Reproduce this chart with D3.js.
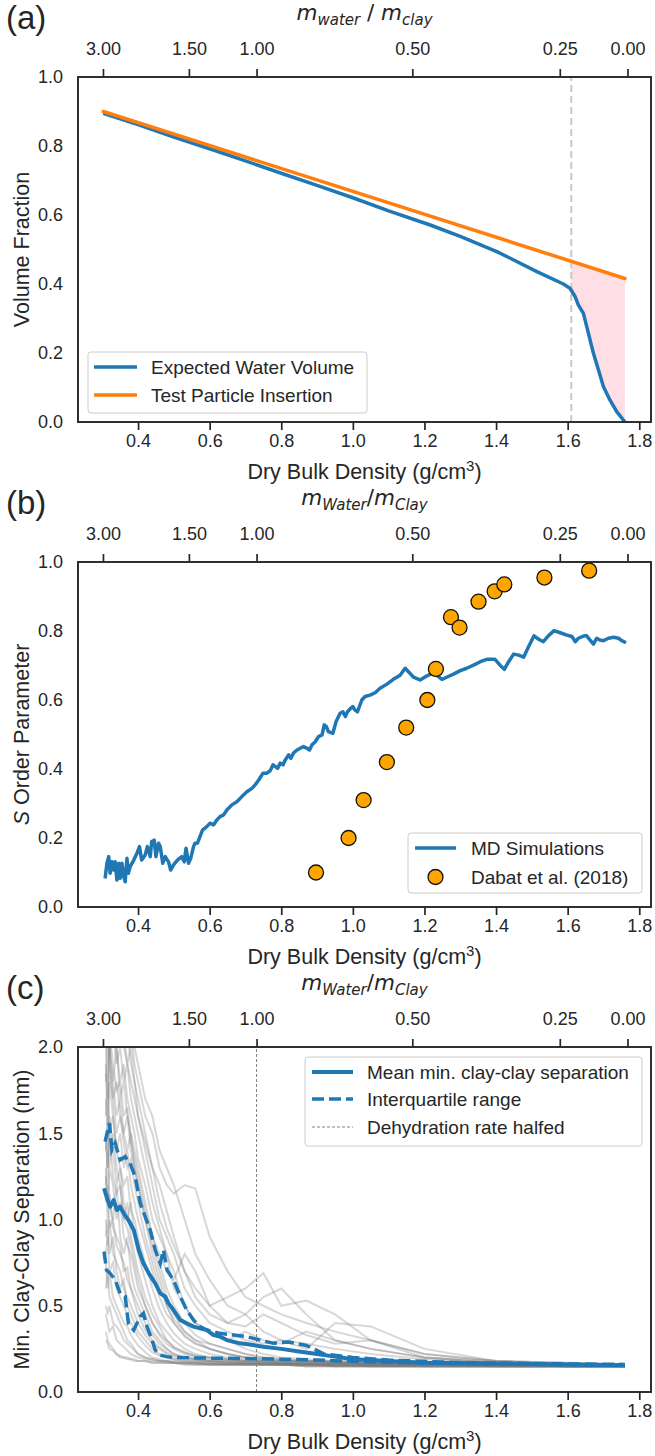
<!DOCTYPE html>
<html><head><meta charset="utf-8">
<script src="https://cdn.jsdelivr.net/npm/d3@7"></script>
<style>
body{margin:0;background:#fff}
svg text{font-family:"Liberation Sans",Arial,Helvetica,sans-serif;fill:#262626}
</style>
</head><body><svg id="chart" width="655" height="1456"></svg>
<script>
// ---------- shared axis data ----------
const densityTicks = [0.4,0.6,0.8,1.0,1.2,1.4,1.6,1.8];
const ratioTickLabels = ["3.00","1.50","1.00","0.50","0.25","0.00"];
const ratioTickDensity = [0.302,0.542,0.731,1.166,1.578,1.767];
const densityExtent = [0.305,1.760];

// ---------- panel (a) ----------
const blueD = [0.303,0.4,0.5,0.6,0.7,0.8,0.9,1.0,1.1,1.216,1.3,1.402,1.514,1.588,1.607,1.621,1.630,1.644,1.658,1.672,1.686,1.700,1.718,1.737,1.760];
const blueV = [0.895,0.862,0.826,0.792,0.757,0.721,0.686,0.650,0.612,0.571,0.538,0.494,0.436,0.400,0.387,0.363,0.339,0.315,0.257,0.199,0.151,0.102,0.064,0.030,0.0];
const orangeD = [0.303,1.760];
const orangeV = [0.900,0.416];
const cutoffDensity = 1.61;
const aTicks = [0.0,0.2,0.4,0.6,0.8,1.0];

// ---------- panel (b) ----------
const mdD = [0.308,0.313,0.318,0.322,0.327,0.332,0.336,0.341,0.346,0.350,
0.355,0.360,0.364,0.369,0.373,0.378,0.388,0.397,0.404,0.410,
0.420,0.426,0.434,0.438,0.445,0.450,0.457,0.462,0.469,0.476,
0.485,0.491,0.499,0.510,0.522,0.529,0.534,0.541,0.547,0.555,
0.559,0.566,0.573,0.580,0.592,0.601,0.611,0.620,0.629,0.639,
0.648,0.662,0.676,0.690,0.704,0.718,0.727,0.737,0.749,0.760,
0.769,0.777,0.784,0.790,0.797,0.805,0.811,0.821,0.827,0.834,
0.844,0.853,0.862,0.872,0.879,0.886,0.895,0.904,0.914,0.920,
0.926,0.932,0.944,0.953,0.964,0.972,0.979,0.985,0.994,1.000,
1.006,1.013,1.025,1.034,1.048,1.062,1.076,1.095,1.113,1.132,
1.146,1.160,1.169,1.188,1.207,1.225,1.249,1.262,1.281,1.300,
1.318,1.337,1.356,1.374,1.397,1.411,1.423,1.435,1.449,1.463,
1.477,1.491,1.506,1.519,1.532,1.546,1.562,1.579,1.598,1.612,
1.621,1.630,1.646,1.653,1.661,1.672,1.681,1.690,1.700,1.714,
1.728,1.742,1.751,1.763];
const mdS = [0.083,0.127,0.146,0.098,0.131,0.107,0.131,0.078,0.127,0.083,
0.127,0.088,0.073,0.141,0.098,0.117,0.136,0.156,0.175,0.136,
0.151,0.175,0.146,0.189,0.194,0.146,0.185,0.175,0.127,0.146,
0.131,0.107,0.122,0.136,0.146,0.131,0.170,0.127,0.141,0.175,
0.185,0.185,0.204,0.223,0.233,0.243,0.238,0.252,0.262,0.267,
0.281,0.296,0.305,0.320,0.334,0.344,0.354,0.368,0.388,0.388,
0.395,0.412,0.407,0.402,0.417,0.412,0.426,0.441,0.431,0.446,
0.455,0.460,0.465,0.460,0.455,0.470,0.479,0.494,0.499,0.528,
0.523,0.508,0.503,0.537,0.561,0.566,0.552,0.566,0.576,0.581,
0.571,0.566,0.600,0.610,0.614,0.621,0.634,0.646,0.660,0.672,
0.692,0.677,0.666,0.658,0.670,0.679,0.660,0.666,0.675,0.685,
0.692,0.701,0.711,0.718,0.718,0.701,0.689,0.711,0.733,0.730,
0.724,0.755,0.786,0.776,0.769,0.786,0.801,0.795,0.788,0.784,
0.769,0.779,0.786,0.786,0.776,0.762,0.779,0.774,0.772,0.779,
0.782,0.779,0.772,0.766];
const dabatD = [0.897,0.988,1.030,1.095,1.149,1.208,1.232,1.274,1.298,1.351,1.396,1.423,1.535,1.660];
const dabatS = [0.10,0.20,0.31,0.42,0.52,0.60,0.69,0.84,0.81,0.885,0.915,0.935,0.955,0.975];
const bTicks = [0.0,0.2,0.4,0.6,0.8,1.0];

// ---------- panel (c) ----------
const meanD = [0.305,0.312,0.322,0.332,0.341,0.350,0.360,0.373,0.388,0.402,0.415,0.430,0.448,0.462,0.476,0.485,0.499,0.518,0.536,0.555,0.573,0.592,0.611,0.629,0.648,0.685,0.722,0.75,0.8,0.85,0.9,0.95,1.0,1.1,1.2,1.4,1.6,1.76];
const meanV = [1.181,1.132,1.074,1.113,1.055,1.074,1.036,0.997,0.939,0.823,0.746,0.688,0.630,0.572,0.553,0.514,0.475,0.417,0.398,0.379,0.369,0.359,0.330,0.321,0.301,0.282,0.272,0.262,0.25,0.235,0.22,0.205,0.19,0.18,0.17,0.165,0.16,0.155];
const q3D = [0.308,0.320,0.327,0.336,0.350,0.364,0.378,0.392,0.406,0.420,0.434,0.448,0.462,0.471,0.481,0.499,0.518,0.536,0.555,0.573,0.592,0.629,0.667,0.704,0.741,0.778,0.82,0.87,0.92,1.0,1.1,1.3,1.5,1.76];
const q3V = [1.451,1.558,1.403,1.442,1.345,1.364,1.326,1.248,1.094,1.016,0.939,0.823,0.746,0.823,0.707,0.649,0.553,0.475,0.417,0.379,0.359,0.340,0.330,0.321,0.301,0.282,0.29,0.27,0.22,0.2,0.185,0.17,0.165,0.16];
const q1D = [0.305,0.312,0.322,0.336,0.350,0.364,0.373,0.388,0.406,0.415,0.425,0.439,0.448,0.46,0.48,0.5,0.55,0.6,0.7,0.8,0.9,1.0,1.2,1.4,1.6,1.76];
const q1V = [0.814,0.707,0.688,0.649,0.572,0.553,0.398,0.359,0.437,0.456,0.379,0.301,0.243,0.215,0.205,0.2,0.198,0.196,0.194,0.19,0.185,0.178,0.168,0.162,0.158,0.155];
const dehydrationDensity = 0.731;
const runGrid = [0.31,0.315,0.32,0.33,0.34,0.35,0.36,0.37,0.38,0.39,0.40,0.42,0.44,0.46,0.48,0.50,0.53,0.56,0.60,0.65,0.70,0.75,0.80,0.87,0.95,1.05,1.2,1.4,1.6,1.76];
const run01 = [2.4,2.6,2.3,2.5,2.2,2.4,2.3,2.1,2.2,2.0,1.9,1.7,1.6,1.4,1.3,1.2,1.0,0.8,0.65,0.5,0.45,0.55,0.6,0.45,0.3,0.25,0.2,0.18,0.17,0.16];
const run02 = [2.2,2.0,2.3,2.1,1.9,2.0,1.8,1.9,1.7,1.6,1.5,1.3,1.1,0.95,0.8,0.7,0.5,0.4,0.35,0.3,0.25,0.22,0.2,0.19,0.18,0.17,0.17,0.16,0.16,0.15];
const run03 = [1.8,2.1,1.9,1.7,1.8,1.6,1.5,1.6,1.4,1.3,1.2,1.0,0.85,0.7,0.55,0.45,0.35,0.3,0.25,0.22,0.2,0.19,0.18,0.18,0.17,0.17,0.16,0.16,0.15,0.15];
const run04 = [1.5,1.3,1.6,1.4,1.2,1.3,1.1,1.0,1.1,0.9,0.8,0.65,0.5,0.4,0.35,0.3,0.25,0.22,0.2,0.19,0.18,0.18,0.17,0.17,0.17,0.16,0.16,0.16,0.15,0.15];
const run05 = [1.2,1.4,1.1,1.0,1.2,0.9,0.8,0.9,0.7,0.6,0.55,0.45,0.35,0.3,0.25,0.22,0.2,0.19,0.18,0.18,0.17,0.17,0.17,0.16,0.16,0.16,0.16,0.15,0.15,0.15];
const run06 = [0.9,1.0,0.8,0.9,0.7,0.6,0.65,0.5,0.45,0.4,0.35,0.3,0.25,0.22,0.2,0.19,0.18,0.18,0.17,0.17,0.17,0.16,0.16,0.16,0.16,0.16,0.15,0.15,0.15,0.15];
const run07 = [0.6,0.7,0.55,0.5,0.45,0.4,0.35,0.3,0.28,0.25,0.22,0.2,0.19,0.18,0.18,0.17,0.17,0.17,0.16,0.16,0.16,0.16,0.16,0.16,0.15,0.15,0.15,0.15,0.15,0.15];
const run08 = [0.35,0.3,0.28,0.25,0.22,0.2,0.2,0.19,0.19,0.18,0.18,0.18,0.17,0.17,0.17,0.17,0.16,0.16,0.16,0.16,0.16,0.16,0.16,0.15,0.15,0.15,0.15,0.15,0.15,0.15];
const run09 = [2.6,2.3,2.5,2.2,2.4,2.1,2.3,2.0,2.1,1.9,1.8,1.6,1.5,1.3,1.2,1.15,1.2,1.18,0.9,0.7,0.55,0.5,0.45,0.4,0.35,0.3,0.22,0.18,0.16,0.16];
const run10 = [2.0,2.3,1.9,2.2,2.0,1.8,1.9,1.7,1.6,1.5,1.35,1.2,1.0,0.9,0.8,0.6,0.5,0.4,0.35,0.3,0.35,0.3,0.28,0.35,0.3,0.25,0.2,0.17,0.16,0.16];
const run11 = [1.7,1.5,1.8,1.6,1.4,1.5,1.3,1.4,1.2,1.1,1.0,0.85,0.7,0.55,0.45,0.4,0.32,0.28,0.25,0.22,0.2,0.19,0.18,0.18,0.17,0.17,0.16,0.16,0.16,0.15];
const run12 = [1.3,1.1,1.3,1.2,1.0,1.1,0.9,0.85,0.8,0.7,0.6,0.5,0.4,0.33,0.28,0.25,0.22,0.2,0.19,0.18,0.18,0.17,0.17,0.17,0.16,0.16,0.16,0.16,0.15,0.15];
const run13 = [1.0,0.85,1.0,0.8,0.75,0.7,0.6,0.55,0.5,0.45,0.4,0.33,0.28,0.25,0.22,0.2,0.19,0.18,0.18,0.17,0.17,0.17,0.16,0.16,0.16,0.16,0.16,0.15,0.15,0.15];
const run14 = [0.75,0.6,0.7,0.55,0.5,0.45,0.4,0.38,0.33,0.3,0.27,0.23,0.2,0.19,0.18,0.18,0.17,0.17,0.17,0.16,0.16,0.16,0.16,0.16,0.16,0.15,0.15,0.15,0.15,0.15];
const run15 = [2.3,2.5,2.4,2.2,2.3,2.2,2.0,2.1,1.9,1.8,1.7,1.5,1.3,1.2,1.05,0.9,0.7,0.6,0.5,0.55,0.6,0.69,0.5,0.53,0.45,0.3,0.22,0.18,0.17,0.16];
const run16 = [1.9,1.7,2.0,1.8,1.6,1.7,1.5,1.4,1.5,1.3,1.2,1.0,0.8,0.65,0.5,0.42,0.35,0.3,0.28,0.25,0.22,0.2,0.19,0.18,0.18,0.17,0.17,0.16,0.16,0.15];
const run17 = [1.4,1.6,1.3,1.5,1.3,1.2,1.0,1.1,0.9,0.8,0.7,0.55,0.45,0.38,0.3,0.26,0.23,0.21,0.2,0.19,0.18,0.18,0.17,0.17,0.17,0.16,0.16,0.16,0.15,0.15];
const run18 = [1.1,1.2,0.95,1.0,0.85,0.8,0.75,0.65,0.6,0.55,0.5,0.4,0.33,0.28,0.25,0.22,0.2,0.19,0.18,0.18,0.17,0.17,0.17,0.16,0.16,0.16,0.16,0.15,0.15,0.15];
const run19 = [0.5,0.45,0.5,0.4,0.38,0.35,0.3,0.28,0.26,0.24,0.22,0.2,0.19,0.18,0.18,0.17,0.17,0.17,0.16,0.16,0.16,0.16,0.16,0.16,0.15,0.15,0.15,0.15,0.15,0.15];
const run20 = [2.5,2.2,2.4,2.3,2.1,2.2,2.0,1.9,1.8,1.7,1.6,1.4,1.2,1.0,0.9,0.8,0.6,0.5,0.4,0.35,0.3,0.28,0.3,0.25,0.4,0.38,0.25,0.18,0.16,0.16];
const run21 = [2.1,2.3,2.0,1.8,2.0,1.7,1.8,1.6,1.5,1.4,1.3,1.1,0.9,0.75,0.6,0.5,0.4,0.33,0.28,0.25,0.22,0.2,0.19,0.18,0.18,0.17,0.17,0.16,0.16,0.15];
const run22 = [1.6,1.8,1.5,1.6,1.4,1.3,1.2,1.25,1.05,1.0,0.9,0.75,0.6,0.48,0.4,0.34,0.28,0.25,0.22,0.2,0.19,0.18,0.18,0.17,0.17,0.16,0.16,0.16,0.15,0.15];
const run23 = [1.25,1.0,1.15,0.95,0.9,0.85,0.7,0.72,0.6,0.52,0.45,0.36,0.3,0.26,0.23,0.21,0.2,0.19,0.18,0.17,0.17,0.17,0.16,0.16,0.16,0.16,0.15,0.15,0.15,0.15];
const run24 = [0.8,0.9,0.7,0.75,0.6,0.55,0.5,0.45,0.4,0.36,0.32,0.27,0.23,0.21,0.2,0.19,0.18,0.17,0.17,0.17,0.16,0.16,0.16,0.16,0.16,0.15,0.15,0.15,0.15,0.15];
const run25 = [0.45,0.4,0.35,0.38,0.3,0.28,0.26,0.24,0.22,0.21,0.2,0.19,0.18,0.18,0.17,0.17,0.17,0.16,0.16,0.16,0.16,0.16,0.16,0.15,0.15,0.15,0.15,0.15,0.15,0.15];
const run26 = [2.2,2.4,2.1,2.3,2.2,2.0,2.1,1.9,2.0,1.8,1.6,1.45,1.3,1.1,0.95,0.85,0.7,0.55,0.45,0.4,0.38,0.45,0.4,0.33,0.28,0.3,0.2,0.17,0.16,0.16];
const run27 = [1.85,1.6,1.9,1.7,1.5,1.6,1.45,1.3,1.35,1.2,1.1,0.9,0.75,0.6,0.5,0.4,0.33,0.28,0.25,0.22,0.2,0.19,0.18,0.18,0.17,0.17,0.16,0.16,0.16,0.15];
const run28 = [1.45,1.3,1.5,1.25,1.15,1.2,1.0,0.95,0.85,0.75,0.65,0.5,0.4,0.34,0.3,0.26,0.23,0.21,0.2,0.19,0.18,0.18,0.17,0.17,0.16,0.16,0.16,0.16,0.15,0.15];
const run29 = [0.3,0.28,0.25,0.24,0.22,0.21,0.2,0.2,0.19,0.19,0.18,0.18,0.17,0.17,0.17,0.17,0.16,0.16,0.16,0.16,0.16,0.16,0.16,0.15,0.15,0.15,0.15,0.15,0.15,0.15];
const run30 = [2.0,1.8,2.1,1.9,1.75,1.8,1.6,1.65,1.45,1.35,1.25,1.05,0.9,0.8,0.7,0.65,0.8,0.7,0.5,0.4,0.45,0.35,0.3,0.28,0.25,0.22,0.19,0.17,0.16,0.15];
const cTicks = [0.0,0.5,1.0,1.5,2.0];

// ---------- drawing ----------
const svg = d3.select("#chart");
const L = 78, R = 651, PH = 345;
const tops = [77, 562, 1047];
const ink = "#262626";
const BLUE = "#1f77b4", ORANGE = "#ff7f0e";
const MATH = '"DejaVu Sans",sans-serif';
const span = densityExtent[1]-densityExtent[0];
const x = d3.scaleLinear().domain([densityExtent[0]-0.05*span, densityExtent[1]+0.05*span]).range([L,R]);
const zip = (a,b) => a.map((v,i)=>[v,b[i]]);

function mathLabel(num, den, sep){
  return `<tspan font-style="italic">m</tspan><tspan font-style="italic" font-size="15" dy="5">${num}</tspan>`+
         `<tspan dy="-5">${sep}</tspan><tspan font-style="italic">m</tspan><tspan font-style="italic" font-size="15" dy="5">${den}</tspan>`;
}

function panel(top, ydom, yticks, fmt, tag, ylabelNode, topLabel){
  const y = d3.scaleLinear().domain(ydom).range([top+PH, top]);
  const g = svg.append("g");
  const clipId = "clip"+tag;
  svg.append("clipPath").attr("id",clipId).append("rect").attr("x",L).attr("y",top).attr("width",R-L).attr("height",PH);
  const xb = d3.axisBottom(x).tickValues(densityTicks).tickFormat(d3.format(".1f")).tickSize(8).tickPadding(4);
  const gb = svg.append("g").attr("transform",`translate(0,${top+PH})`).call(xb);
  const xt = d3.axisTop(x).tickValues(ratioTickDensity).tickFormat((d,i)=>ratioTickLabels[i]).tickSize(8).tickPadding(14);
  const gt = svg.append("g").attr("transform",`translate(0,${top})`).call(xt);
  const yl = d3.axisLeft(y).tickValues(yticks).tickFormat(fmt).tickSize(0).tickPadding(15);
  const gl = svg.append("g").attr("transform",`translate(${L},0)`).call(yl);
  [gb,gt,gl].forEach(a=>{
    a.select(".domain").remove();
    a.selectAll(".tick line").attr("stroke",ink).attr("stroke-width",1.7);
    a.selectAll(".tick text").attr("font-size",18).attr("fill",ink).style("font-family",'"Liberation Sans",Arial,sans-serif');
  });
  svg.append("text").attr("x",(L+R)/2).attr("y",top+PH+57).attr("text-anchor","middle").attr("font-size",21.5)
    .html('Dry Bulk Density (g/cm<tspan dy="-8" font-size="15">3</tspan><tspan dy="8">)</tspan>');
  svg.append("text").attr("transform",`translate(22,${top+PH/2}) rotate(-90)`).attr("text-anchor","middle")
    .attr("dominant-baseline","central").attr("font-size",21.5).html(ylabelNode);
  svg.append("text").attr("x",(L+R)/2).attr("y",top-57).attr("text-anchor","middle").attr("font-size",21.5)
    .style("font-family",MATH).html(topLabel);
  svg.append("text").attr("x",6).attr("y",top-48).attr("font-size",33).text("("+tag+")");
  return {y, g, clip:`url(#${clipId})`, frame:()=>svg.append("rect").attr("x",L).attr("y",top).attr("width",R-L).attr("height",PH)
      .attr("fill","none").attr("stroke",ink).attr("stroke-width",1.9)};
}

function legend(x0,y0,w,h,items){
  const g = svg.append("g");
  g.append("rect").attr("x",x0).attr("y",y0).attr("width",w).attr("height",h).attr("rx",3)
    .attr("fill","white").attr("fill-opacity",0.8).attr("stroke","#cccccc").attr("stroke-width",1);
  items.forEach(it=>{
    if(it.type==="line"){
      g.append("line").attr("x1",it.x1).attr("x2",it.x2).attr("y1",it.y).attr("y2",it.y)
        .attr("stroke",it.color).attr("stroke-width",it.w).attr("stroke-dasharray",it.dash||null);
    } else {
      g.append("circle").attr("cx",(it.x1+it.x2)/2).attr("cy",it.y).attr("r",7.5).attr("fill","#ffa500").attr("stroke","#111").attr("stroke-width",1.3);
    }
    g.append("text").attr("x",it.tx).attr("y",it.y).attr("dominant-baseline","central").attr("font-size",19).text(it.label);
  });
}

const line = (yS) => d3.line().x(d=>x(d[0])).y(d=>yS(d[1]));

// ===== Panel (a)
{
  const P = panel(tops[0],[0,1],aTicks,d3.format(".1f"),"a",'Volume Fraction', mathLabel("water","clay"," / "));
  const y = P.y;
  const orangeAt = d3.scaleLinear().domain(orangeD).range(orangeV);
  const fillPts = zip(blueD,blueV).filter(d=>d[0]>cutoffDensity);
  fillPts.unshift([cutoffDensity, d3.scaleLinear().domain(blueD).range(blueV)(cutoffDensity)]);
  const area = d3.area().x(d=>x(d[0])).y0(d=>y(d[1])).y1(d=>y(orangeAt(d[0])));
  P.g.append("path").datum(fillPts).attr("d",area).attr("fill","#ffc0cb").attr("fill-opacity",0.5);
  P.g.append("line").attr("x1",x(cutoffDensity)).attr("x2",x(cutoffDensity)).attr("y1",y(0)).attr("y2",y(1))
    .attr("stroke","#c8c8c8").attr("stroke-width",2).attr("stroke-dasharray","7,4");
  P.g.append("path").datum(zip(blueD,blueV)).attr("d",line(y)).attr("fill","none").attr("stroke",BLUE).attr("stroke-width",3.5).attr("stroke-linejoin","round");
  P.g.append("path").datum(zip(orangeD,orangeV)).attr("d",line(y)).attr("fill","none").attr("stroke",ORANGE).attr("stroke-width",3.5).attr("stroke-linecap","round");
  P.frame();
  legend(88,352,279,61,[
    {type:"line",x1:94,x2:137,y:367,color:BLUE,w:3.5,tx:151,label:"Expected Water Volume"},
    {type:"line",x1:94,x2:137,y:395,color:ORANGE,w:3.5,tx:151,label:"Test Particle Insertion"}]);
}

// ===== Panel (b)
{
  const P = panel(tops[1],[0,1],bTicks,d3.format(".1f"),"b",'<tspan font-style="italic">S</tspan> Order Parameter', mathLabel("Water","Clay","/"));
  const y = P.y;
  P.g.append("path").datum(zip(mdD,mdS)).attr("d",line(y)).attr("fill","none").attr("stroke",BLUE).attr("stroke-width",3.5).attr("stroke-linejoin","round");
  P.g.selectAll("circle.dab").data(zip(dabatD,dabatS)).join("circle").attr("class","dab")
    .attr("cx",d=>x(d[0])).attr("cy",d=>y(d[1])).attr("r",7.5).attr("fill","#ffa500").attr("stroke","#111").attr("stroke-width",1.3);
  P.frame();
  legend(408,833,234,60,[
    {type:"line",x1:415,x2:456,y:848,color:BLUE,w:3.5,tx:471,label:"MD Simulations"},
    {type:"dot",x1:415,x2:456,y:877,tx:471,label:"Dabat et al. (2018)"}]);
}

// ===== Panel (c)
{
  const P = panel(tops[2],[0,2],cTicks,d3.format(".1f"),"c",'Min. Clay-Clay Separation (nm)', mathLabel("Water","Clay","/"));
  const y = P.y;
  const runs = [run01,run02,run03,run04,run05,run06,run07,run08,run09,run10,run11,run12,run13,run14,run15,
                run16,run17,run18,run19,run20,run21,run22,run23,run24,run25,run26,run27,run28,run29,run30];
  const gr = P.g.append("g").attr("clip-path",P.clip);
  gr.selectAll("path.run").data(runs).join("path").attr("class","run")
    .attr("d",r=>line(y)(zip(runGrid,r))).attr("fill","none").attr("stroke","#7a7a7a").attr("stroke-opacity",0.3).attr("stroke-width",2);
  gr.append("line").attr("x1",x(dehydrationDensity)).attr("x2",x(dehydrationDensity)).attr("y1",y(0)).attr("y2",y(2))
    .attr("stroke","#808080").attr("stroke-width",1).attr("stroke-dasharray","3,2");
  gr.append("path").datum(zip(q3D,q3V)).attr("d",line(y)).attr("fill","none").attr("stroke",BLUE).attr("stroke-width",3.5).attr("stroke-dasharray","12,5");
  gr.append("path").datum(zip(q1D,q1V)).attr("d",line(y)).attr("fill","none").attr("stroke",BLUE).attr("stroke-width",3.5).attr("stroke-dasharray","12,5");
  gr.append("path").datum(zip(meanD,meanV)).attr("d",line(y)).attr("fill","none").attr("stroke",BLUE).attr("stroke-width",4).attr("stroke-linejoin","round");
  P.frame();
  legend(305,1057,337,89,[
    {type:"line",x1:312,x2:353,y:1072,color:BLUE,w:4,tx:367,label:"Mean min. clay-clay separation"},
    {type:"line",x1:312,x2:353,y:1099,color:BLUE,w:3.5,dash:"12,5",tx:367,label:"Interquartile range"},
    {type:"line",x1:312,x2:353,y:1127,color:"#808080",w:1,dash:"3,2",tx:367,label:"Dehydration rate halfed"}]);
}
</script>
</body></html>
